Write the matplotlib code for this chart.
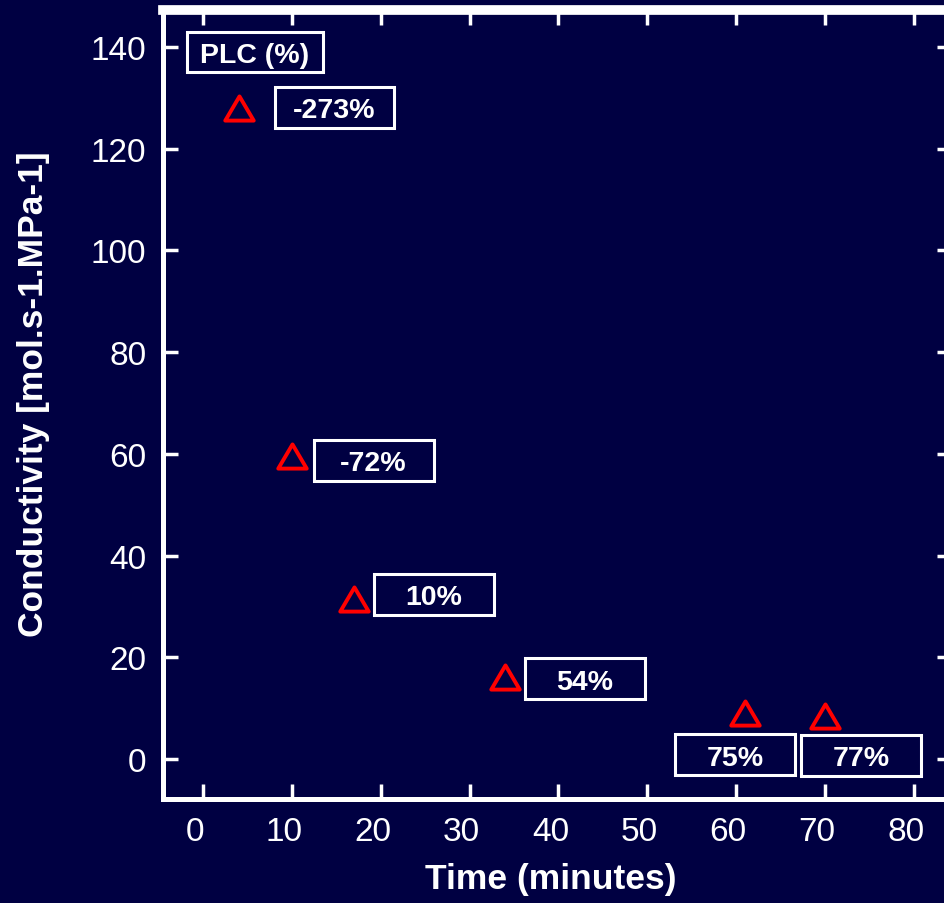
import matplotlib
matplotlib.use('Agg')
import matplotlib.pyplot as plt
from matplotlib.patches import Rectangle
from matplotlib.path import Path
from matplotlib.transforms import ScaledTranslation

# --- DATA ---
time_min = [4, 10, 17, 34, 61, 70]
conductivity = [128, 59.5, 31.4, 16.1, 9.0, 8.4]
plc_labels = ['-273%', '-72%', '10%', '54%', '75%', '77%']
# centres of the label boxes (data units)
label_x = [14.8, 19.2, 26.0, 43.0, 59.9, 74.1]
label_y = [128.2, 58.7, 32.4, 15.8, 0.8, 0.7]
x_ticks = [0, 10, 20, 30, 40, 50, 60, 70, 80]
y_ticks = [0, 20, 40, 60, 80, 100, 120, 140]

BG = '#000042'
plt.rcParams['font.family'] = ['Liberation Sans', 'DejaVu Sans']

fig = plt.figure(figsize=(9.44, 9.04), dpi=100, facecolor=BG)
ax = fig.add_axes([0.1727, 0.1150, 0.8358, 0.8728], facecolor=BG)

# marqueur triangle un peu aplati (chemin ferme)
tri = Path([(-1, -0.85), (1, -0.85), (0, 0.85), (-1, -0.85)],
           [Path.MOVETO, Path.LINETO, Path.LINETO, Path.CLOSEPOLY])
ax.plot(time_min, conductivity, linestyle='none', marker=tri, markersize=20.5,
        markerfacecolor='none', markeredgecolor='#FF0000', markeredgewidth=2.8,
        clip_on=False, zorder=3)

# boites des PLC
box_w, box_h = 13.5, 8.06
for lx, ly, txt in zip(label_x, label_y, plc_labels):
    ax.add_patch(Rectangle((lx - box_w / 2, ly - box_h / 2), box_w, box_h,
                           fill=False, edgecolor='white', linewidth=2.2, zorder=2))
    ax.text(lx, ly, txt, color='white', fontsize=20.5, fontweight='bold',
            ha='center', va='center_baseline', zorder=4)

# titre de la legende
ax.add_patch(Rectangle((5.83 - 15.3 / 2, 139.1 - 7.9 / 2), 15.3, 7.9,
                       fill=False, edgecolor='white', linewidth=2.2, zorder=2))
ax.text(5.83, 139.1, 'PLC (%)', color='white', fontsize=20.5, fontweight='bold',
        ha='center', va='center_baseline', zorder=4)

ax.set_xlim(-4.5, 84.3)
ax.set_ylim(-7.9, 147.3)
ax.set_xticks(x_ticks)
ax.set_yticks(y_ticks)

ax.tick_params(axis='both', direction='in', length=11, width=2.5, color='white',
               labelcolor='white', labelsize=24, top=True, right=True)
ax.tick_params(axis='x', pad=12)
ax.tick_params(axis='y', pad=12)

# les etiquettes de l'axe x sont un peu decalees vers la gauche
shift = ScaledTranslation(-0.08, 0, fig.dpi_scale_trans)
for lab in ax.get_xticklabels():
    lab.set_transform(lab.get_transform() + shift)

for side in ['left', 'right', 'bottom']:
    ax.spines[side].set_color('white')
    ax.spines[side].set_linewidth(3.6)
ax.spines['top'].set_color('white')
ax.spines['top'].set_linewidth(7)

ax.set_xlabel('Time (minutes)', color='white', fontsize=25.5, fontweight='bold')
ax.set_ylabel('Conductivity [mol.s-1.MPa-1]', color='white', fontsize=25.5,
              fontweight='bold')
ax.xaxis.set_label_coords(0.492, -0.080)
ax.yaxis.set_label_coords(-0.143, 0.514)

fig.savefig('out.png', dpi=100, facecolor=BG)
